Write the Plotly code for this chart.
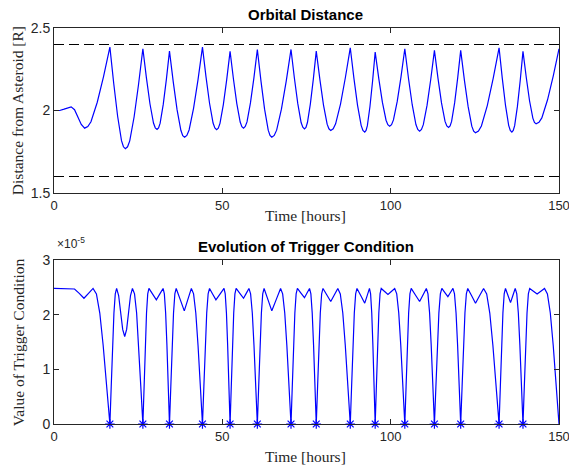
import plotly.graph_objects as go

# ---------------- data ----------------
# Orbital distance [R] vs time [hours]
dist_t = [0, 1.7, 3.0, 4.0, 5.1, 6.1, 7.1, 8.1, 9.1, 10.04,
          10.98, 12.85, 14.73, 16.6,
          17.75, 18.9, 20.05, 20.63, 21.2, 21.85, 22.5, 23.8, 25.1, 26.4,
          27.45, 28.5, 29.55, 30.08, 30.6, 31.06, 31.53, 32.45, 33.38, 34.3,
          35.43, 36.55, 37.68, 38.24, 38.8, 39.46, 40.13, 41.45, 42.78, 44.1,
          45.15, 46.2, 47.25, 47.78, 48.3, 48.8, 49.3, 50.3, 51.3, 52.3,
          53.3, 54.3, 55.3, 55.8, 56.3, 56.81, 57.33, 58.35, 59.38, 60.4,
          61.48, 62.55, 63.63, 64.16, 64.7, 65.41, 66.13, 67.55, 68.98, 70.4,
          71.4, 72.4, 73.4, 73.9, 74.4, 74.84, 75.28, 76.15, 77.03, 77.9,
          78.98, 80.05, 81.13, 81.66, 82.2, 82.93, 83.65, 85.1, 86.55, 88.0,
          89.08, 90.15, 91.23, 91.76, 92.3, 92.69, 93.08, 93.85, 94.63, 95.4,
          96.48, 97.55, 98.63, 99.16, 99.7, 100.26, 100.83, 101.95, 103.08, 104.2,
          105.3, 106.4, 107.5, 108.05, 108.6, 109.15, 109.7, 110.8, 111.9, 113.0,
          114.05, 115.1, 116.15, 116.68, 117.2, 117.65, 118.1, 119.0, 119.9, 120.8,
          121.9, 123.0, 124.1, 124.65, 125.2, 126.08, 126.95, 128.7, 130.45, 132.2,
          133.15, 134.1, 135.05, 135.53, 136.0, 136.41, 136.83, 137.65, 138.48, 139.3,
          140.28, 141.25, 142.23, 142.71, 143.2, 144.05, 144.9, 146.6, 148.3, 150.0]
dist_r = [2.000, 2.000, 2.008, 2.017, 2.022, 2.005, 1.960, 1.915, 1.893, 1.903,
          1.932, 2.050, 2.207, 2.384,
          2.162, 1.965, 1.817, 1.780, 1.768, 1.780, 1.816, 1.962, 2.156, 2.374,
          2.198, 2.041, 1.924, 1.895, 1.885, 1.895, 1.923, 2.037, 2.189, 2.360,
          2.172, 2.005, 1.880, 1.848, 1.838, 1.849, 1.882, 2.013, 2.187, 2.384,
          2.204, 2.044, 1.924, 1.894, 1.884, 1.893, 1.922, 2.036, 2.187, 2.358,
          2.191, 2.042, 1.930, 1.902, 1.893, 1.903, 1.931, 2.046, 2.198, 2.370,
          2.178, 2.008, 1.881, 1.849, 1.838, 1.849, 1.881, 2.008, 2.178, 2.370,
          2.197, 2.043, 1.927, 1.899, 1.889, 1.898, 1.927, 2.040, 2.190, 2.360,
          2.187, 2.033, 1.917, 1.889, 1.879, 1.889, 1.919, 2.039, 2.200, 2.380,
          2.196, 2.033, 1.910, 1.879, 1.869, 1.879, 1.908, 2.024, 2.179, 2.354,
          2.192, 2.049, 1.941, 1.914, 1.905, 1.914, 1.943, 2.055, 2.205, 2.374,
          2.194, 2.035, 1.915, 1.885, 1.875, 1.885, 1.914, 2.031, 2.188, 2.364,
          2.196, 2.046, 1.934, 1.906, 1.897, 1.906, 1.934, 2.046, 2.196, 2.364,
          2.184, 2.025, 1.905, 1.875, 1.865, 1.875, 1.906, 2.030, 2.195, 2.380,
          2.196, 2.033, 1.910, 1.879, 1.869, 1.879, 1.908, 2.025, 2.182, 2.358,
          2.200, 2.059, 1.954, 1.928, 1.919, 1.928, 1.955, 2.065, 2.210, 2.374]

# Distance limits (dashed lines)
limit_levels = [2.4, 1.6]
time_range = [0, 150]

# Trigger condition (in units of 1e-5) vs time [hours]
trig_t = [0, 3.0, 6.1, 7.5, 8.9, 10.25, 11.6,
          12.6, 13.6, 14.6, 15.6, 16.6, 17.0, 17.4, 17.8, 18.2, 18.6,
          19.2, 19.8, 20.4, 21.0, 21.575, 22.15, 22.725, 23.3,
          23.92, 24.54, 25.16, 25.78, 26.4, 26.76, 27.12, 27.48, 27.84, 28.2,
          29.3, 30.4, 31.4, 32.4,
          32.78, 33.16, 33.54, 33.92, 34.3, 34.7, 35.1, 35.5, 35.9, 36.3,
          37.5, 38.7, 39.75, 40.8,
          41.46, 42.12, 42.78, 43.44, 44.1, 44.52, 44.94, 45.36, 45.78, 46.2,
          47.15, 48.1, 49.3, 50.5,
          50.86, 51.22, 51.58, 51.94, 52.3, 52.66, 53.02, 53.38, 53.74, 54.1,
          55.2, 56.3, 57.1, 57.9,
          58.4, 58.9, 59.4, 59.9, 60.4, 60.8, 61.2, 61.6, 62.0, 62.4,
          63.55, 64.7, 66.0, 67.3,
          67.92, 68.54, 69.16, 69.78, 70.4, 70.78, 71.16, 71.54, 71.92, 72.3,
          73.35, 74.4, 75.15, 75.9,
          76.3, 76.7, 77.1, 77.5, 77.9, 78.3, 78.7, 79.1, 79.5, 79.9,
          81.05, 82.2, 83.25, 84.3,
          85.04, 85.78, 86.52, 87.26, 88.0, 88.4, 88.8, 89.2, 89.6, 90.0,
          91.15, 92.3, 93.0, 93.7,
          94.04, 94.38, 94.72, 95.06, 95.4, 95.76, 96.12, 96.48, 96.84, 97.2,
          98.2, 99.2, 100.2, 101.2,
          101.8, 102.4, 103.0, 103.6, 104.2, 104.58, 104.96, 105.34, 105.72, 106.1,
          107.35, 108.6, 109.6, 110.6,
          111.08, 111.56, 112.04, 112.52, 113.0, 113.44, 113.88, 114.32, 114.76, 115.2,
          116.1, 117.0, 117.75, 118.5,
          118.96, 119.42, 119.88, 120.34, 120.8, 121.22, 121.64, 122.06, 122.48, 122.9,
          124.05, 125.2, 126.4, 127.6,
          128.52, 129.44, 130.36, 131.28, 132.2, 132.58, 132.96, 133.34, 133.72, 134.1,
          134.85, 135.6, 136.3, 137.0,
          137.46, 137.92, 138.38, 138.84, 139.3, 139.7, 140.1, 140.5, 140.9, 141.3,
          142.4, 143.5, 144.6, 145.7,
          146.56, 147.42, 148.28, 149.14, 150.0]
trig_v = [2.48, 2.48, 2.47, 2.39, 2.30, 2.39, 2.48,
          2.38, 2.03, 1.44, 0.69, 0.0, 0.69, 1.44, 2.03, 2.38, 2.48,
          2.35, 2.04, 1.73, 1.60, 1.73, 2.04, 2.35, 2.48,
          2.38, 2.03, 1.44, 0.69, 0.0, 0.69, 1.44, 2.03, 2.38, 2.48,
          2.375, 2.27, 2.375, 2.48,
          2.38, 2.03, 1.44, 0.69, 0.0, 0.69, 1.44, 2.03, 2.38, 2.48,
          2.275, 2.07, 2.275, 2.48,
          2.38, 2.03, 1.44, 0.69, 0.0, 0.69, 1.44, 2.03, 2.38, 2.48,
          2.375, 2.27, 2.375, 2.48,
          2.38, 2.03, 1.44, 0.69, 0.0, 0.69, 1.44, 2.03, 2.38, 2.48,
          2.39, 2.30, 2.39, 2.48,
          2.38, 2.03, 1.44, 0.69, 0.0, 0.69, 1.44, 2.03, 2.38, 2.48,
          2.275, 2.07, 2.275, 2.48,
          2.38, 2.03, 1.44, 0.69, 0.0, 0.69, 1.44, 2.03, 2.38, 2.48,
          2.395, 2.31, 2.395, 2.48,
          2.38, 2.03, 1.44, 0.69, 0.0, 0.69, 1.44, 2.03, 2.38, 2.48,
          2.36, 2.24, 2.36, 2.48,
          2.38, 2.03, 1.44, 0.69, 0.0, 0.69, 1.44, 2.03, 2.38, 2.48,
          2.345, 2.21, 2.345, 2.48,
          2.38, 2.03, 1.44, 0.69, 0.0, 0.69, 1.44, 2.03, 2.38, 2.48,
          2.425, 2.37, 2.425, 2.48,
          2.38, 2.03, 1.44, 0.69, 0.0, 0.69, 1.44, 2.03, 2.38, 2.48,
          2.36, 2.24, 2.36, 2.48,
          2.38, 2.03, 1.44, 0.69, 0.0, 0.69, 1.44, 2.03, 2.38, 2.48,
          2.405, 2.33, 2.405, 2.48,
          2.38, 2.03, 1.44, 0.69, 0.0, 0.69, 1.44, 2.03, 2.38, 2.48,
          2.345, 2.21, 2.345, 2.48,
          2.38, 2.03, 1.44, 0.69, 0.0, 0.69, 1.44, 2.03, 2.38, 2.48,
          2.35, 2.22, 2.35, 2.48,
          2.38, 2.03, 1.44, 0.69, 0.0, 0.69, 1.44, 2.03, 2.38, 2.48,
          2.43, 2.38, 2.43, 2.48,
          2.38, 2.03, 1.44, 0.69, 0.0]

# Trigger events (marked with asterisks)
trigger_times = [16.6, 26.4, 34.3, 44.1, 52.3, 60.4, 70.4, 77.9, 88.0,
                 95.4, 104.2, 113.0, 120.8, 132.2, 139.3]
trigger_values = [0] * len(trigger_times)

x_ticks = [0, 50, 100, 150]
dist_ticks = [1.5, 2, 2.5]
trig_ticks = [0, 1, 2, 3]
trig_ticktext = ["0", "1", "2", "3"]

# ---------------- figure ----------------
BLUE = "#0000FF"
AXC = "#262626"
SANS = "Liberation Sans, Arial, sans-serif"
SERIF = "Liberation Serif, Times New Roman, serif"

# The captured page is narrowed horizontally (~569/581), so the figure is
# laid out on a 581px-wide page; SX converts target picture x to page x.
SX = 581 / 569
W, H = 581, 469
ML, MR, MT, MB = 54, 11, 28, 45

fig = go.Figure()

for lvl in limit_levels:
    fig.add_trace(go.Scatter(x=time_range, y=[lvl, lvl], mode="lines",
                             line=dict(color="black", width=1, dash="10px,5px"),
                             xaxis="x", yaxis="y", showlegend=False,
                             hoverinfo="skip"))

fig.add_trace(go.Scatter(x=dist_t, y=dist_r, mode="lines",
                         line=dict(color=BLUE, width=1.2),
                         xaxis="x", yaxis="y", showlegend=False))

fig.add_trace(go.Scatter(x=trig_t, y=trig_v, mode="lines",
                         line=dict(color=BLUE, width=1.2),
                         xaxis="x2", yaxis="y2", showlegend=False))

fig.add_trace(go.Scatter(x=trigger_times, y=trigger_values, mode="markers",
                         marker=dict(symbol="asterisk-open", size=8,
                                     color=BLUE, line=dict(color=BLUE, width=1.2)),
                         cliponaxis=False,
                         xaxis="x2", yaxis="y2", showlegend=False))

axis_common = dict(showgrid=False, zeroline=False, showline=True, linecolor=AXC,
                   linewidth=1, mirror="ticks", ticks="inside", ticklen=5,
                   tickcolor=AXC)
y_font = dict(family=SANS, size=14, color=AXC)
x_font = dict(family=SANS, size=13, color=AXC)

plot_h = H - MT - MB
top_h, bot_h = 165, 164

fig.update_layout(
    width=W, height=H,
    paper_bgcolor="white", plot_bgcolor="white",
    margin=dict(l=ML, r=MR, t=MT, b=MB),
    xaxis=dict(domain=[0, 1], range=time_range, tickvals=x_ticks, anchor="y",
               tickfont=x_font, **axis_common),
    yaxis=dict(domain=[1 - top_h / plot_h, 1], range=[1.5, 2.5],
               tickvals=dist_ticks, anchor="x", tickfont=y_font, **axis_common),
    xaxis2=dict(domain=[0, 1], range=time_range, tickvals=x_ticks, anchor="y2",
                tickfont=x_font, **axis_common),
    yaxis2=dict(domain=[0, bot_h / plot_h], range=[0, 3], tickvals=trig_ticks,
                ticktext=trig_ticktext, anchor="x2", tickfont=y_font,
                **axis_common),
)


def py(p):
    # pixel y (from top) -> paper coordinate
    return 1 - (p - MT) / (H - MT - MB)


def px(p):
    # target picture x -> paper coordinate
    return (p * SX - ML) / (W - ML - MR)


def label(text, x, y, font, angle=0, xanchor="center"):
    return dict(text=text, x=px(x), y=py(y), xref="paper", yref="paper",
                xanchor=xanchor, yanchor="middle", showarrow=False,
                textangle=angle, font=font)


title_font = dict(family=SANS, size=15, color="black")
axis_font = dict(family=SERIF, size=15.5, color=AXC)

annotations = [
    label("<b>Orbital Distance</b>", 305, 14, title_font),
    label("<b>Evolution of Trigger Condition</b>", 305, 246, title_font),
    label("Time [hours]", 305, 216, axis_font),
    label("Time [hours]", 305, 457, axis_font),
    label("Distance from Asteroid [R]", 17, 111, axis_font, angle=-90),
    label("Value of Trigger Condition", 17, 342, axis_font, angle=-90),
    label("×10<sup>-5</sup>", 54, 243, dict(family=SANS, size=12, color=AXC),
          xanchor="left"),
]
fig.update_layout(annotations=annotations)

fig.write_html("out.html", config={"displayModeBar": False},
               post_script="document.body.style.margin='0px';")
